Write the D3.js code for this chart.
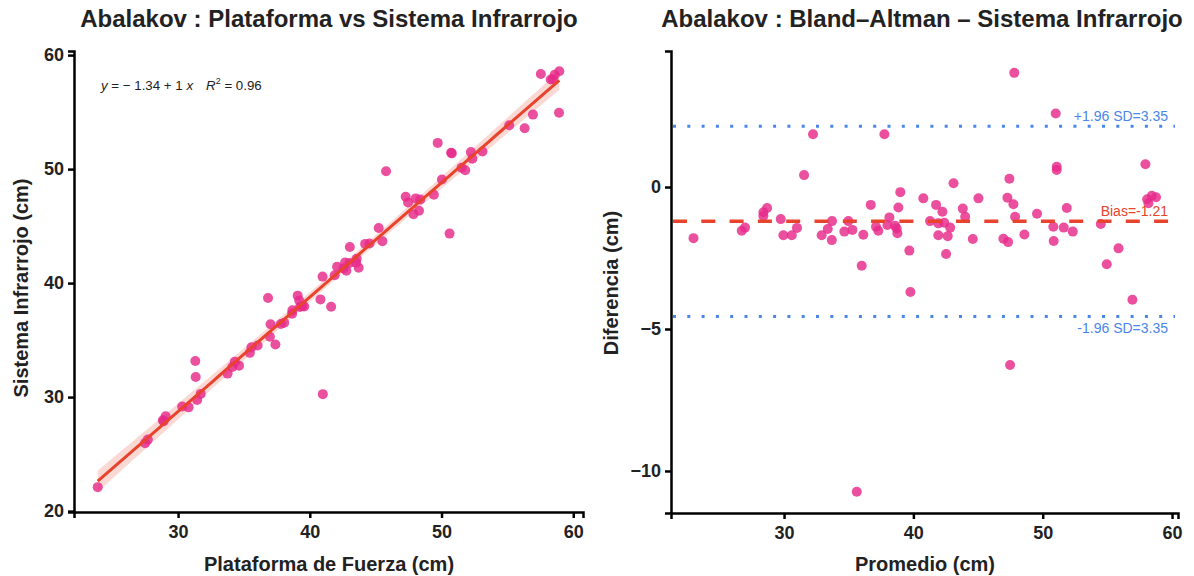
<!DOCTYPE html>
<html>
<head>
<meta charset="utf-8">
<script src="https://cdn.jsdelivr.net/npm/d3@7"></script>
<style>
  body { margin: 0; background: #fff; }
  svg { font-family: "Liberation Sans", Arial, Helvetica, sans-serif; }
  .tick text { font-size: 18px; font-weight: bold; fill: #222; }
  .tick line, .domain { stroke: #000; }
</style>
</head>
<body>
<div class="viz"></div>
<script>
/* values (cm) */
const plataforma = [23.90, 27.50, 27.70, 28.91, 28.85, 29.06, 30.31, 30.80, 31.45, 31.72,
  31.34, 31.31, 33.76, 34.12, 34.63, 34.31, 35.45, 35.57, 36.04, 40.99,
  37.39, 36.97, 37.02, 37.81, 38.06, 36.83, 38.66, 38.68, 39.26, 39.44,
  39.58, 39.20, 39.08, 40.81, 41.62, 40.97, 41.89, 42.07, 42.57, 42.78,
  42.68, 43.02, 43.71, 43.52, 43.56, 43.04, 44.20, 44.53, 45.51, 45.23,
  47.87, 47.46, 48.29, 47.28, 50.61, 48.04, 45.79, 48.39, 49.42, 50.03,
  51.52, 51.80, 49.71, 50.73, 50.78, 52.34, 52.23, 53.11, 55.14, 56.31,
  56.94, 58.92, 57.54, 58.29, 58.46, 58.59, 58.94];

const infrarrojo = [22.10, 25.96, 26.27, 27.89, 27.96, 28.32, 29.18, 29.10, 29.75, 30.28,
  31.76, 33.17, 32.06, 32.64, 32.76, 33.11, 33.88, 34.37, 34.53, 30.26,
  34.62, 35.29, 36.39, 36.41, 36.52, 38.69, 37.32, 37.61, 37.90, 37.98,
  37.95, 38.48, 38.90, 38.57, 37.92, 40.57, 40.69, 41.44, 41.29, 41.08,
  41.81, 41.76, 41.35, 41.79, 42.13, 43.17, 43.44, 43.48, 43.68, 44.83,
  46.05, 47.08, 46.35, 47.57, 44.34, 47.43, 49.81, 47.34, 47.75, 49.09,
  50.12, 49.90, 52.30, 51.44, 51.38, 50.91, 51.49, 51.54, 53.84, 53.59,
  54.78, 54.95, 58.34, 57.86, 57.89, 58.28, 58.58];

const ticksScatter = [20, 30, 40, 50, 60];
const ticksX = [30, 40, 50, 60];
const ticksDiff = [-10, -5, 0];

const bias = -1.21;
const loa = 3.35;
const eqLabel = { a: "\u2212 1.34", b: "1", r2: "0.96" };

const titles = ["Abalakov : Plataforma vs Sistema Infrarrojo", "Abalakov : Bland\u2013Altman \u2013 Sistema Infrarrojo"];

const pink = "#E7298A";
const red = "#E8432D";
const blue = "#4A86E8";

var width = 1194, height = 576;

var svg = d3.select(".viz")
  .append("svg")
  .attr("width", width)
  .attr("height", height);

var pts = plataforma.map((d, i) => ({ x: d, y: infrarrojo[i], m: (d + infrarrojo[i]) / 2, d: infrarrojo[i] - d }));

/* ---------- left : scatter + regression ---------- */
var lp = { left: 74, right: 583, top: 51, bottom: 512 };

var x1 = d3.scaleLinear().domain([22.1, 60.74]).range([lp.left, lp.right]);
var y1 = d3.scaleLinear().domain([19.92, 60.36]).range([lp.bottom, lp.top]);

// least squares fit + 95% band
var n = pts.length;
var mx = d3.mean(pts, d => d.x), my = d3.mean(pts, d => d.y);
var sxx = d3.sum(pts, d => (d.x - mx) * (d.x - mx));
var sxy = d3.sum(pts, d => (d.x - mx) * (d.y - my));
var slope = sxy / sxx, icpt = my - slope * mx;
var se = Math.sqrt(d3.sum(pts, d => Math.pow(d.y - (icpt + slope * d.x), 2)) / (n - 2));
var tq = 1.992;
var xs = d3.range(0, 81).map(i => d3.min(plataforma) + i * (d3.max(plataforma) - d3.min(plataforma)) / 80);
var band = xs.map(function (x) {
  var fit = icpt + slope * x;
  var w = tq * se * Math.sqrt(1 / n + (x - mx) * (x - mx) / sxx);
  return { x: x, fit: fit, lo: fit - w, hi: fit + w };
});

svg.append("path")
  .datum(band)
  .attr("fill", red)
  .attr("fill-opacity", 0.2)
  .attr("d", d3.area().x(d => x1(d.x)).y0(d => y1(d.lo)).y1(d => y1(d.hi)));

svg.append("g")
  .selectAll("circle")
  .data(pts)
  .enter()
  .append("circle")
  .attr("cx", d => x1(d.x))
  .attr("cy", d => y1(d.y))
  .attr("r", 5)
  .attr("fill", pink)
  .attr("fill-opacity", 0.82);

svg.append("path")
  .datum(band)
  .attr("fill", "none")
  .attr("stroke", red)
  .attr("stroke-width", 3)
  .attr("d", d3.line().x(d => x1(d.x)).y(d => y1(d.fit)));

var eq = svg.append("text")
  .attr("x", 101)
  .attr("y", 90)
  .attr("font-size", 13.3)
  .attr("fill", "#222");
eq.append("tspan").attr("font-style", "italic").text("y");
eq.append("tspan").text(" = " + eqLabel.a + " + " + eqLabel.b + " ");
eq.append("tspan").attr("font-style", "italic").text("x");
eq.append("tspan").attr("font-style", "italic").attr("dx", 13).text("R");
eq.append("tspan").attr("font-size", 9).attr("dy", -6).text("2");
eq.append("tspan").attr("dy", 6).text(" = " + eqLabel.r2);

svg.append("g")
  .attr("transform", "translate(0," + lp.bottom + ")")
  .call(d3.axisBottom(x1).tickValues(ticksX).tickSize(6).tickPadding(7))
  .call(g => g.selectAll("line, .domain").attr("stroke-width", 2.5));

svg.append("g")
  .attr("transform", "translate(" + lp.left + ",0)")
  .call(d3.axisLeft(y1).tickValues(ticksScatter).tickSize(6).tickPadding(4))
  .call(g => g.selectAll("line, .domain").attr("stroke-width", 2.5));

/* ---------- right : Bland-Altman ---------- */
var rp = { left: 671, right: 1178, top: 51, bottom: 513 };

var x2 = d3.scaleLinear().domain([21.26, 60.46]).range([rp.left, rp.right]);
var y2 = d3.scaleLinear().domain([-11.48, 4.79]).range([rp.bottom, rp.top]);

svg.append("g")
  .selectAll("circle")
  .data(pts)
  .enter()
  .append("circle")
  .attr("cx", d => x2(d.m))
  .attr("cy", d => y2(d.d))
  .attr("r", 5)
  .attr("fill", pink)
  .attr("fill-opacity", 0.82);

var hlines = [
  { v: bias + loa, color: blue, dash: "3 11.3", w: 3 },
  { v: bias, color: red, dash: "14 14.3", w: 3.5 },
  { v: bias - loa, color: blue, dash: "3 11.3", w: 3 }
];

svg.append("g")
  .selectAll("line")
  .data(hlines)
  .enter()
  .append("line")
  .attr("x1", rp.left + 2)
  .attr("x2", rp.right - 3)
  .attr("y1", d => y2(d.v))
  .attr("y2", d => y2(d.v))
  .attr("stroke", d => d.color)
  .attr("stroke-width", d => d.w)
  .attr("stroke-dasharray", d => d.dash);

var lbls = [
  { v: bias + loa, dy: -5, color: blue, t: "+1.96 SD=" + loa.toFixed(2) },
  { v: bias, dy: -5, color: red, t: "Bias=" + bias.toFixed(2) },
  { v: bias - loa, dy: 16, color: blue, t: "-1.96 SD=" + loa.toFixed(2) }
];

svg.append("g")
  .selectAll("text")
  .data(lbls)
  .enter()
  .append("text")
  .attr("x", 1168)
  .attr("y", d => y2(d.v) + d.dy)
  .attr("text-anchor", "end")
  .attr("font-size", 14)
  .attr("fill", d => d.color)
  .text(d => d.t);

svg.append("g")
  .attr("transform", "translate(0," + rp.bottom + ")")
  .call(d3.axisBottom(x2).tickValues(ticksX).tickSize(6).tickPadding(7))
  .call(g => g.selectAll("line, .domain").attr("stroke-width", 2.5));

svg.append("g")
  .attr("transform", "translate(" + rp.left + ",0)")
  .call(d3.axisLeft(y2).tickValues(ticksDiff).tickFormat(d3.format("d")).tickSize(6).tickPadding(4))
  .call(g => g.selectAll("line, .domain").attr("stroke-width", 2.5));

/* ---------- titles ---------- */
svg.selectAll("text.title")
  .data(titles)
  .enter()
  .append("text")
  .attr("class", "title")
  .attr("x", (d, i) => i === 0 ? 329 : 922)
  .attr("y", 27)
  .attr("text-anchor", "middle")
  .attr("font-size", 24)
  .attr("font-weight", "bold")
  .attr("fill", "#222")
  .text(d => d);

var axisTitles = [
  { t: "Plataforma de Fuerza (cm)", x: 329, y: 571, rot: 0 },
  { t: "Promedio (cm)", x: 925, y: 571, rot: 0 },
  { t: "Sistema Infrarrojo (cm)", x: 28, y: 288, rot: -90 },
  { t: "Diferencia (cm)", x: 618, y: 283, rot: -90 }
];

svg.selectAll("text.axtitle")
  .data(axisTitles)
  .enter()
  .append("text")
  .attr("class", "axtitle")
  .attr("transform", d => "translate(" + d.x + "," + d.y + ") rotate(" + d.rot + ")")
  .attr("text-anchor", "middle")
  .attr("font-size", 20)
  .attr("font-weight", "bold")
  .attr("fill", "#222")
  .text(d => d.t);
</script>
</body>
</html>
